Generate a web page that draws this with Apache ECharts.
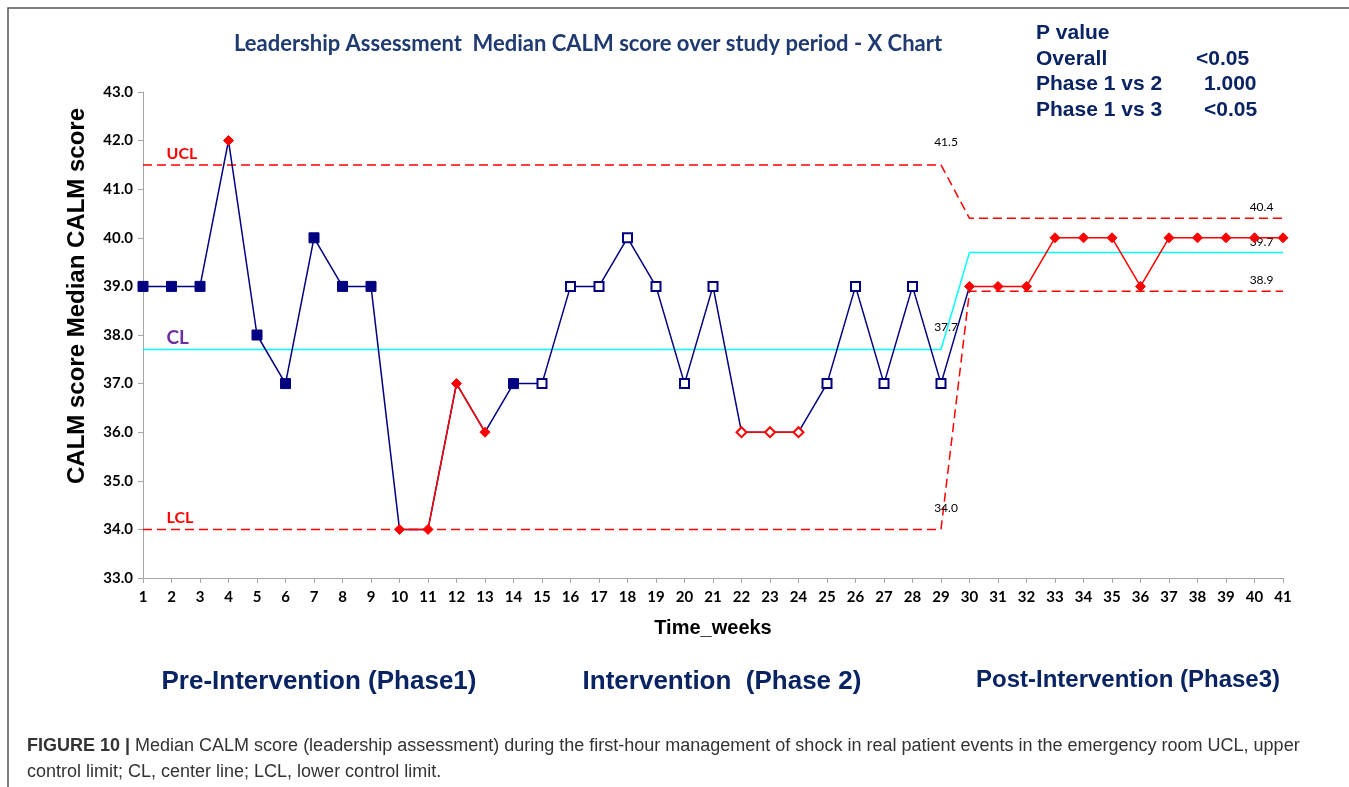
<!DOCTYPE html>
<html>
<head>
<meta charset="utf-8">
<script src="https://cdn.jsdelivr.net/npm/echarts@6/dist/echarts.min.js"></script>
<style>
  html, body { margin: 0; padding: 0; background: #fff; }
  #chart { width: 1349px; height: 787px; }
</style>
</head>
<body>
<div id="chart"></div>
<script>
var weeks = [1,2,3,4,5,6,7,8,9,10,11,12,13,14,15,16,17,18,19,20,21,22,23,24,25,26,27,28,29,30,31,32,33,34,35,36,37,38,39,40,41];
var scores = [39,39,39,42,38,37,40,39,39,34, 34,37,36,37,37,39,39,40,39,37, 39,36,36,36,37,39,37,39,37,39, 39,39,40,40,40,39,40,40,40,40,40];
// phase of each week: 1 pre, 2 intervention, 3 post
var phases = [1,1,1,1,1,1,1,1,1,1,1,1,1,1, 2,2,2,2,2,2,2,2,2,2,2,2,2,2,2, 3,3,3,3,3,3,3,3,3,3,3,3];
// weeks flagged red (special cause)
var signalWeeks = [4,10,11,12,13,22,23,24,30,31,32,33,34,35,36,37,38,39,40,41];
var uclValues = [41.5,41.5,41.5,41.5,41.5,41.5,41.5,41.5,41.5,41.5,41.5,41.5,41.5,41.5,41.5,41.5,41.5,41.5,41.5,41.5,41.5,41.5,41.5,41.5,41.5,41.5,41.5,41.5,41.5, 40.4,40.4,40.4,40.4,40.4,40.4,40.4,40.4,40.4,40.4,40.4,40.4];
var clValues = [37.7,37.7,37.7,37.7,37.7,37.7,37.7,37.7,37.7,37.7,37.7,37.7,37.7,37.7,37.7,37.7,37.7,37.7,37.7,37.7,37.7,37.7,37.7,37.7,37.7,37.7,37.7,37.7,37.7, 39.7,39.7,39.7,39.7,39.7,39.7,39.7,39.7,39.7,39.7,39.7,39.7];
var lclValues = [34.0,34.0,34.0,34.0,34.0,34.0,34.0,34.0,34.0,34.0,34.0,34.0,34.0,34.0,34.0,34.0,34.0,34.0,34.0,34.0,34.0,34.0,34.0,34.0,34.0,34.0,34.0,34.0,34.0, 38.9,38.9,38.9,38.9,38.9,38.9,38.9,38.9,38.9,38.9,38.9,38.9];

var navy = '#000080';
var red = '#ff0000';
var titleBlue = '#1f3a70';
var textNavy = '#0a2463';
var calibri = 'Lato, "Open Sans", sans-serif';
var arial = '"Liberation Sans", Arial, sans-serif';

function isSignal(w) { return signalWeeks.indexOf(w) >= 0; }

// blue run: weeks 1..30 (segment 29->30 is blue)
var blueData = [];
var redData = [];
for (var i = 0; i < weeks.length; i++) {
  var w = weeks[i];
  if (phases[i] < 3 || w === 30) {
    var sym = 'none';
    if (!isSignal(w)) sym = phases[i] === 1 ? 'rect' : 'emptyRect';
    blueData.push({ value: [w, scores[i]], symbol: sym, symbolSize: phases[i] === 1 ? 10 : 9 });
  }
  if (isSignal(w)) {
    redData.push({ value: [w, scores[i]], symbol: phases[i] === 2 ? 'emptyDiamond' : 'diamond' });
  } else {
    redData.push({ value: [w, '-'] });
  }
}

// control limit lines, text labels keyed by week (hidden symbol carries the label)
function limitData(values, labels) {
  return weeks.map(function (w, i) {
    var item = { value: [w, values[i]], symbol: 'none' };
    if (labels[w]) {
      item.symbol = 'circle';
      item.symbolSize = 1;
      item.itemStyle = { color: 'rgba(0,0,0,0)', borderWidth: 0 };
      item.label = labels[w];
    }
    return item;
  });
}
function valLabel(dist, dx) {
  return { show: true, position: 'top', distance: dist, offset: [dx, 0], formatter: function (p) { return p.value[1].toFixed(1); },
    color: '#000', fontFamily: calibri, fontSize: 12 };
}
function nameLabel(txt, color, size, dist) {
  return { show: true, position: 'top', align: 'left', distance: dist, offset: [-5, 0], formatter: txt,
    color: color, fontFamily: calibri, fontWeight: 'bold', fontSize: size };
}

var chart = echarts.init(document.getElementById('chart'));
var option = {
  animation: false,
  backgroundColor: '#fff',
  grid: { left: 143, right: 66, top: 92, bottom: 209 },
  xAxis: {
    type: 'value', min: 1, max: 41, interval: 1,
    name: 'Time_weeks', nameLocation: 'middle', nameGap: 40,
    nameTextStyle: { fontFamily: arial, fontWeight: 'bold', fontSize: 20, color: '#000' },
    axisLine: { lineStyle: { color: '#a6a6a6', width: 1 } },
    axisTick: { show: true, length: 5, lineStyle: { color: '#a6a6a6' } },
    axisLabel: { margin: 12, fontFamily: calibri, fontWeight: 'bold', fontSize: 15, color: '#000' },
    splitLine: { show: false }
  },
  yAxis: {
    type: 'value', min: 33, max: 43, interval: 1,
    axisLine: { show: true, lineStyle: { color: '#a6a6a6', width: 1 } },
    axisTick: { show: true, length: 5, lineStyle: { color: '#a6a6a6' } },
    axisLabel: { margin: 10, fontFamily: calibri, fontWeight: 'bold', fontSize: 15, color: '#000',
      formatter: function (v) { return v.toFixed(1); } },
    splitLine: { show: false }
  },
  series: [
    {
      name: 'CL', type: 'line', z: 2, clip: false, showAllSymbol: true,
      lineStyle: { color: '#00ffff', width: 1.5 },
      data: limitData(clValues, { 2: nameLabel('CL', '#7030a0', 19, 2), 29: valLabel(16, 5), 40: valLabel(4, 7) })
    },
    {
      name: 'UCL', type: 'line', z: 2, clip: false, showAllSymbol: true,
      lineStyle: { color: red, width: 1.5, type: [9, 5] },
      data: limitData(uclValues, { 2: nameLabel('UCL', red, 16, 3), 29: valLabel(16, 5), 40: valLabel(5, 7) })
    },
    {
      name: 'LCL', type: 'line', z: 2, clip: false, showAllSymbol: true,
      lineStyle: { color: red, width: 1.5, type: [9, 5] },
      data: limitData(lclValues, { 2: nameLabel('LCL', red, 16, 3), 29: valLabel(15, 5), 40: valLabel(5, 7) })
    },
    {
      name: 'Median', type: 'line', z: 3, clip: false, showAllSymbol: true,
      lineStyle: { color: navy, width: 1.5 },
      itemStyle: { color: navy, borderColor: navy, borderWidth: 1 },
      data: blueData
    },
    {
      name: 'Signal', type: 'line', z: 4, clip: false, showAllSymbol: true, symbolSize: 10,
      lineStyle: { color: red, width: 1.5 },
      itemStyle: { color: red, borderColor: red, borderWidth: 1 },
      data: redData
    }
  ],
  graphic: [
    { type: 'polyline', shape: { points: [[8, 787], [8, 8], [1349, 8]] }, style: { stroke: '#555', lineWidth: 1.5, fill: null } },
    { type: 'text', style: { text: 'Leadership Assessment  Median CALM score over study period - X Chart',
      x: 588, y: 44, align: 'center', verticalAlign: 'middle', fill: titleBlue, font: 'bold 22px ' + calibri } },
    { type: 'text', rotation: Math.PI / 2, x: 77, y: 296, style: { text: 'CALM score Median CALM score',
      x: 0, y: 0, align: 'center', verticalAlign: 'middle', fill: '#000', font: 'bold 24px ' + arial } },
    { type: 'text', style: { text: 'P value', x: 1036, y: 33, verticalAlign: 'middle', fill: textNavy, font: 'bold 21px ' + arial } },
    { type: 'text', style: { text: 'Overall', x: 1036, y: 59, verticalAlign: 'middle', fill: textNavy, font: 'bold 21px ' + arial } },
    { type: 'text', style: { text: '<0.05', x: 1196, y: 59, verticalAlign: 'middle', fill: textNavy, font: 'bold 21px ' + arial } },
    { type: 'text', style: { text: 'Phase 1 vs 2', x: 1036, y: 84, verticalAlign: 'middle', fill: textNavy, font: 'bold 21px ' + arial } },
    { type: 'text', style: { text: '1.000', x: 1204, y: 84, verticalAlign: 'middle', fill: textNavy, font: 'bold 21px ' + arial } },
    { type: 'text', style: { text: 'Phase 1 vs 3', x: 1036, y: 110, verticalAlign: 'middle', fill: textNavy, font: 'bold 21px ' + arial } },
    { type: 'text', style: { text: '<0.05', x: 1204, y: 110, verticalAlign: 'middle', fill: textNavy, font: 'bold 21px ' + arial } },
    { type: 'text', style: { text: 'Pre-Intervention (Phase1)', x: 319, y: 682, align: 'center', verticalAlign: 'middle', fill: textNavy, font: 'bold 26px ' + arial } },
    { type: 'text', style: { text: 'Intervention  (Phase 2)', x: 722, y: 682, align: 'center', verticalAlign: 'middle', fill: textNavy, font: 'bold 26px ' + arial } },
    { type: 'text', style: { text: 'Post-Intervention (Phase3)', x: 1128, y: 680, align: 'center', verticalAlign: 'middle', fill: textNavy, font: 'bold 24px ' + arial } },
    { type: 'text', style: {
      text: '{b|FIGURE 10 |} Median CALM score (leadership assessment) during the first-hour management of shock in real patient events in the emergency room UCL, upper\ncontrol limit; CL, center line; LCL, lower control limit.',
      x: 27, y: 733, fill: '#333', font: '18px ' + arial, lineHeight: 26,
      rich: { b: { fontWeight: 'bold', fontFamily: arial, fontSize: 18, fill: '#333' } } } }
  ]
};
chart.setOption(option);
</script>
</body>
</html>
